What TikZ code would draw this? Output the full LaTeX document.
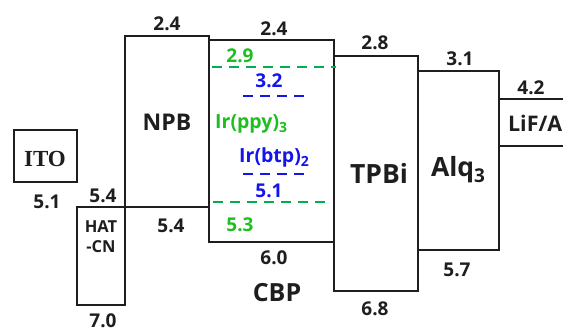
\documentclass[tikz,border=0pt]{standalone}
\usepackage{fontspec}
\setmainfont{Open Sans}
\newfontfamily\itofont{Liberation Serif}
\definecolor{linecol}{RGB}{30,30,30}
\definecolor{gtext}{RGB}{30,190,30}
\definecolor{gline}{RGB}{0,176,80}
\definecolor{btext}{RGB}{20,20,235}
\newcommand\lowsub[1]{\raisebox{-0.35ex}{\fontsize{14}{14}\selectfont #1}}
\begin{document}
\begin{tikzpicture}[x=1pt,y=-1pt,
  box/.style={draw=linecol, line width=1.4pt},
  num/.style={anchor=base, inner sep=0pt, text=linecol, font=\fontsize{19}{19}\selectfont\bfseries},
  big/.style={anchor=base, inner sep=0pt, text=linecol, font=\fontsize{23}{23}\selectfont\bfseries},
  bigger/.style={anchor=base, inner sep=0pt, text=linecol, font=\fontsize{26.5}{26.5}\selectfont\bfseries},
  gdash/.style={draw=gline, line width=2pt, dash pattern=on 10pt off 7pt},
  bdash/.style={draw=btext, line width=2pt, dash pattern=on 10pt off 7pt}]
\useasboundingbox (0,0) rectangle (563,331);
% boxes
\draw[box] (14,130) rectangle (77,182);
\draw[box] (77,207) rectangle (125,305);
\draw[box] (125,36) rectangle (209,207);
\draw[box] (209,40) rectangle (334,242);
\draw[box] (334,56) rectangle (418,291);
\draw[box] (418,71) rectangle (499,250);
\draw[box] (499,99) -- (570,99);
\draw[box] (499,146) -- (570,146);
% dashed levels
\coordinate (g1a) at (212,67); \coordinate (g1b) at (336,67);
\coordinate (b1a) at (243,96); \coordinate (b1b) at (304,96);
\coordinate (b2a) at (243,174); \coordinate (b2b) at (304,174);
\coordinate (g2a) at (213,202); \coordinate (g2b) at (330,202);
\draw[gdash] (g1a) -- (g1b);
\draw[bdash] (b1a) -- (b1b);
\draw[bdash] (b2a) -- (b2b);
\draw[gdash] (g2a) -- (g2b);
% labels
\node[anchor=base, inner sep=0pt, text=linecol, font=\fontsize{23}{23}\selectfont\itofont\bfseries] (ito) at (45,167) {ITO};
\node[num] (ito51) at (47,209) {5.1};
\node[num] (hat54) at (103,203) {5.4};
\node[anchor=base, inner sep=0pt, text=linecol, align=center, font=\fontsize{16.5}{20}\selectfont\bfseries] (hat) at (101,253) {HAT\\-CN};
\node[num] (hat70) at (103,328) {7.0};
\node[num] (npb24) at (167,31) {2.4};
\node[big] (npb) at (167,131) {NPB};
\node[num] (npb54) at (171,233) {5.4};
\node[num] (cbp24) at (274,36) {2.4};
\node[num, text=gtext] (g29) at (240,63) {2.9};
\node[num, text=btext] (b32) at (269,88) {3.2};
\node[anchor=base west, inner sep=0pt, text=gtext, font=\fontsize{19.5}{19.5}\selectfont\bfseries] (ppy) at (215,129) {Ir(ppy)\lowsub{3}};
\node[anchor=base west, inner sep=0pt, text=btext, font=\fontsize{19.5}{19.5}\selectfont\bfseries] (btp) at (239,163) {Ir(btp)\lowsub{2}};
\node[num, text=btext] (b51) at (269,198) {5.1};
\node[num, text=gtext] (g53) at (240,232) {5.3};
\node[num] (cbp60) at (274,265) {6.0};
\node[bigger, font=\fontsize{25}{25}\selectfont\bfseries] (cbp) at (277,302) {CBP};
\node[num] (tpbi28) at (375,50) {2.8};
\node[bigger] (tpbi) at (379,184) {TPBi};
\node[num] (tpbi68) at (375,316) {6.8};
\node[num] (alq31) at (460,66) {3.1};
\node[bigger] (alq) at (458,177) {Alq\lowsub{\fontsize{19}{19}\selectfont 3}};
\node[num] (alq57) at (457,277) {5.7};
\node[num] (lif42) at (531,95) {4.2};
\node[anchor=base east, inner sep=0pt, text=linecol, font=\fontsize{21.5}{21.5}\selectfont\bfseries] (lif) at (562.5,132) {LiF/A};
\end{tikzpicture}
\end{document}
